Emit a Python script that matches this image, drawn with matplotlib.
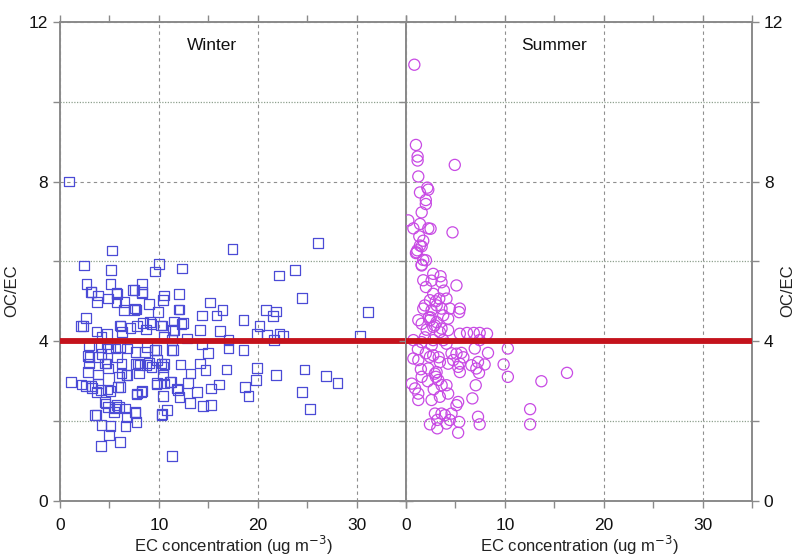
import matplotlib
matplotlib.use("Agg")
import matplotlib.pyplot as plt
from matplotlib.ticker import MultipleLocator

plt.rcParams['font.family'] = ['Liberation Sans', 'DejaVu Sans']

# Winter: EC concentration (ug m-3) and OC/EC ratio
winter_ec = [0.9, 5.28, 17.46, 26.1, 2.42, 5.18, 9.99, 9.59, 12.34, 22.17, 23.78, 2.69, 5.11, 8.31,
             3.16, 3.83, 3.77, 4.84, 5.79, 6.53, 7.53, 8.31, 8.98, 10.49, 10.43, 12.01, 9.92, 12.08,
             7.74, 7.47, 6.46, 15.17, 16.45, 14.36, 15.81, 18.57, 20.82, 21.83, 21.53, 24.45, 31.15,
             2.62, 2.32, 3.70, 4.78, 4.20, 6.12, 6.29, 7.13, 7.80, 8.71, 9.25, 10.36, 11.50, 11.57,
             12.45, 12.85, 14.16, 16.21, 17.05, 20.18, 19.91, 20.92, 21.66, 22.2, 22.54, 30.34,
             2.93, 4.10, 4.78, 5.62, 6.79, 7.64, 8.81, 9.55, 10.49, 11.34, 11.4, 14.36, 14.97, 17.05,
             18.57, 2.99, 2.93, 2.86, 3.87, 4.71, 4.88, 5.79, 6.22, 6.79, 5.95, 7.64, 8.07, 8.98,
             9.82, 10.43, 10.56, 12.18, 13.19, 14.19, 14.7, 16.85, 19.91, 21.86, 24.72, 26.91, 28.05,
             1.14, 2.59, 3.26, 3.87, 4.10, 5.11, 6.12, 7.80, 8.31, 9.82, 10.49, 10.39, 11.2, 11.84,
             12.08, 12.92, 13.86, 15.27, 16.11, 18.74, 19.07, 19.85, 24.45, 4.61, 4.84, 5.45, 5.95,
             6.63, 7.64, 13.12, 14.46, 15.3, 25.29, 3.70, 4.20, 5.11, 4.94, 6.63, 7.74, 10.33, 10.83,
             4.17, 6.05, 11.3,
             4.88, 6.06, 8.59, 9.76, 11.28, 2.86, 4.21, 4.55, 6.23, 6.73, 7.91, 7.96, 8.75, 9.26,
             10.27, 10.43, 11.1, 3.87, 2.19, 3.2, 3.7, 4.81, 5.89, 7.74, 8.25, 9.76, 11.95, 4.55,
             5.56, 5.72, 6.73, 7.58, 3.54, 10.27, 3.2, 5.72, 5.72, 7.4, 8.3, 7.58, 2.12, 6.06, 8.4,
             9.1, 11.44, 12.3, 10.2, 12.0]
winter_ratio = [8.0, 6.28, 6.32, 6.46, 5.9, 5.78, 5.93, 5.75, 5.82, 5.65, 5.79, 5.44, 5.44, 5.43,
                5.23, 5.15, 4.98, 5.07, 5.19, 4.98, 5.28, 5.23, 4.94, 5.15, 5.04, 5.18, 4.73, 4.8,
                4.8, 4.78, 4.78, 4.97, 4.78, 4.65, 4.65, 4.54, 4.78, 4.75, 4.63, 5.09, 4.73,
                4.59, 4.38, 4.25, 4.18, 4.11, 4.38, 4.23, 4.34, 4.38, 4.30, 4.44, 4.40, 4.50, 4.28,
                4.46, 4.07, 4.28, 4.26, 4.03, 4.38, 4.19, 4.17, 4.03, 4.19, 4.15, 4.14,
                3.9, 3.86, 3.94, 3.82, 3.82, 3.73, 3.86, 3.78, 4.11, 4.03, 3.78, 3.94, 3.71, 3.82,
                3.79, 3.61, 3.44, 3.23, 3.61, 3.44, 3.32, 3.61, 3.44, 3.15, 3.11, 3.43, 3.4, 3.46,
                3.53, 3.36, 3.43, 3.42, 3.19, 3.44, 3.28, 3.29, 3.33, 3.15, 3.29, 3.13, 2.96,
                2.98, 2.88, 2.83, 2.94, 2.78, 2.76, 2.86, 2.69, 2.75, 2.96, 2.94, 2.63, 2.98, 2.82,
                2.61, 2.96, 2.73, 2.82, 2.92, 2.86, 2.63, 3.03, 2.73, 2.44, 2.36, 2.23, 2.36,
                2.32, 2.21, 2.46, 2.38, 2.4, 2.3, 2.15, 1.9, 1.88, 1.65, 1.88, 1.98, 2.18, 2.28,
                1.38, 1.48, 1.13,
                3.82, 3.86, 3.73, 3.78, 3.79, 3.63, 3.69, 3.44, 3.19, 3.15, 3.44, 3.21, 3.4, 3.36,
                3.44, 3.15, 2.98, 3.17, 2.92, 2.88, 2.73, 2.79, 2.86, 2.67, 2.73, 2.92, 2.78, 2.48,
                2.32, 2.4, 2.11, 2.23, 2.15, 2.15, 5.23, 5.21, 4.98, 5.28, 5.2, 4.82, 4.38, 4.4, 4.46,
                4.48, 4.28, 4.44, 4.4, 4.8]

# Summer
summer_ec = [0.84, 1.0, 1.17, 1.17, 4.93, 1.24, 2.15, 2.25, 1.41, 2.0, 2.0, 1.58, 0.23, 0.74,
             1.41, 2.25, 2.48, 4.7, 1.34, 1.58, 1.07, 1.74, 1.58,
             1.74, 1.41, 1.0, 1.14, 2.01, 1.58, 2.75, 3.49, 1.74, 2.58, 3.59, 5.1, 2.01, 2.75,
             3.83, 3.36, 2.42, 4.09, 1.74, 2.58, 3.59, 4.43, 5.37, 5.44, 1.24, 1.58, 2.42, 3.09,
             3.76, 4.26, 2.08, 2.75, 3.42, 4.26, 3.59, 6.17, 6.85, 7.45, 8.19, 5.44, 0.74, 1.58,
             2.75, 3.76, 4.09, 7.45, 10.3, 6.95, 8.29, 5.1, 5.6, 4.77, 5.44, 4.26, 3.42, 0.74,
             1.24, 2.42, 2.75, 6.61, 7.28, 7.95, 7.11, 7.38, 9.87, 5.27, 5.44, 10.3, 16.28, 13.69,
             0.57, 0.91, 1.24, 1.24, 1.58, 2.25, 2.92, 3.26, 4.09, 4.26, 3.42, 2.58, 3.09, 3.02,
             7.05, 6.71, 5.27, 5.1, 12.55, 12.55, 7.28, 7.45, 2.42, 3.16, 3.16, 3.93, 4.09, 4.43,
             4.6, 5.37, 3.59, 2.92, 5.27,
             1.9, 2.3, 2.9, 3.1, 1.2, 2.0, 2.6, 3.3, 1.5, 2.2, 2.8, 3.6, 1.9, 2.5, 3.0, 4.6, 5.8]
summer_ratio = [10.93, 8.92, 8.63, 8.53, 8.42, 8.13, 7.85, 7.8, 7.73, 7.54, 7.44, 7.23, 7.03, 6.83,
                6.94, 6.83, 6.82, 6.73, 6.63, 6.38, 6.23, 6.04, 5.92,
                6.52, 6.4, 6.21, 6.28, 6.03, 5.9, 5.69, 5.63, 5.53, 5.52, 5.48, 5.4, 5.36, 5.19,
                5.27, 5.07, 5.03, 5.07, 4.82, 4.78, 4.82, 4.82, 4.73, 4.82, 4.53, 4.44, 4.53, 4.48,
                4.65, 4.57, 4.29, 4.36, 4.23, 4.28, 4.32, 4.21, 4.21, 4.21, 4.19, 4.19, 4.03, 3.98,
                4.03, 4.03, 3.94, 4.03, 3.82, 3.82, 3.71, 3.69, 3.71, 3.53, 3.44, 3.44, 3.48, 3.57,
                3.53, 3.61, 3.65, 3.4, 3.48, 3.42, 3.32, 3.21, 3.42, 3.36, 3.23, 3.11, 3.21, 3.0,
                2.94, 2.82, 2.69, 2.53, 3.11, 3.32, 3.19, 3.03, 2.9, 2.69, 2.61, 2.53, 3.23, 3.11,
                2.9, 2.57, 2.48, 2.4, 2.3, 1.92, 2.11, 1.92, 1.92, 2.03, 1.82, 2.15, 1.94, 2.03,
                2.19, 1.98, 2.19, 2.19, 1.71,
                4.9, 4.6, 4.4, 4.9, 3.8, 3.7, 3.9, 3.6, 3.3, 3.0, 2.8, 2.9, 4.1, 4.6, 5.0, 3.7, 3.6]

x_ticks = [0, 10, 20, 30]
y_ticks = [0, 4, 8, 12]
threshold = 4

fig = plt.figure(figsize=(7.96, 5.6), dpi=100)
ax1 = fig.add_axes([0.0754, 0.1054, 0.4347, 0.8553])
ax2 = fig.add_axes([0.5101, 0.1054, 0.4347, 0.8553])

spine_col = '#8a8a8a'
for ax in (ax1, ax2):
    ax.set_xlim(0, 35)
    ax.set_ylim(0, 12)
    ax.set_xticks(x_ticks)
    ax.set_yticks(y_ticks)
    ax.xaxis.set_minor_locator(MultipleLocator(5))
    ax.yaxis.set_minor_locator(MultipleLocator(2))
    for s in ax.spines.values():
        s.set_color(spine_col)
        s.set_linewidth(1.4)
    ax.tick_params(which='both', direction='out', color=spine_col, width=1.0,
                   labelsize=12.5, labelcolor='#111111', length=5, top=True)
    ax.tick_params(axis='x', which='major', pad=7)
    ax.grid(True, which='major', axis='both', linestyle=(0, (3, 3)), color='#8f8f8f', linewidth=0.8)
    ax.grid(True, which='minor', axis='y', linestyle=(0, (1, 1.2)), color='#8fa08f', linewidth=0.9)
    ax.set_axisbelow(True)
    ax.set_xlabel('EC concentration (ug m$^{-3}$)', fontsize=12, color='#222222', labelpad=1)
    ax.axhline(threshold, color='#c4121c', linewidth=4.2, zorder=5, solid_capstyle='butt')

ax1.tick_params(which='both', right=True, labelright=False)
ax2.tick_params(which='both', left=True, labelleft=False, right=True, labelright=True)

ax1.scatter(winter_ec, winter_ratio, marker='s', s=48, facecolors='none',
            edgecolors='#4b4bd6', linewidths=0.9, zorder=3)
ax2.scatter(summer_ec, summer_ratio, marker='o', s=64, facecolors='none',
            edgecolors='#c84ae4', linewidths=0.9, zorder=3)

ax1.text(15.4, 11.42, 'Winter', fontsize=12.5, ha='center', va='center', color='#111111')
ax2.text(15.0, 11.42, 'Summer', fontsize=12.5, ha='center', va='center', color='#111111')

ax1.set_ylabel('OC/EC', fontsize=12, color='#222222')
ax1.yaxis.set_label_coords(-0.118, 0.44)
ax2.set_ylabel('OC/EC', fontsize=12, color='#222222')
ax2.yaxis.set_label_position('right')
ax2.yaxis.set_label_coords(1.082, 0.44)

fig.savefig('out.png', dpi=100)
